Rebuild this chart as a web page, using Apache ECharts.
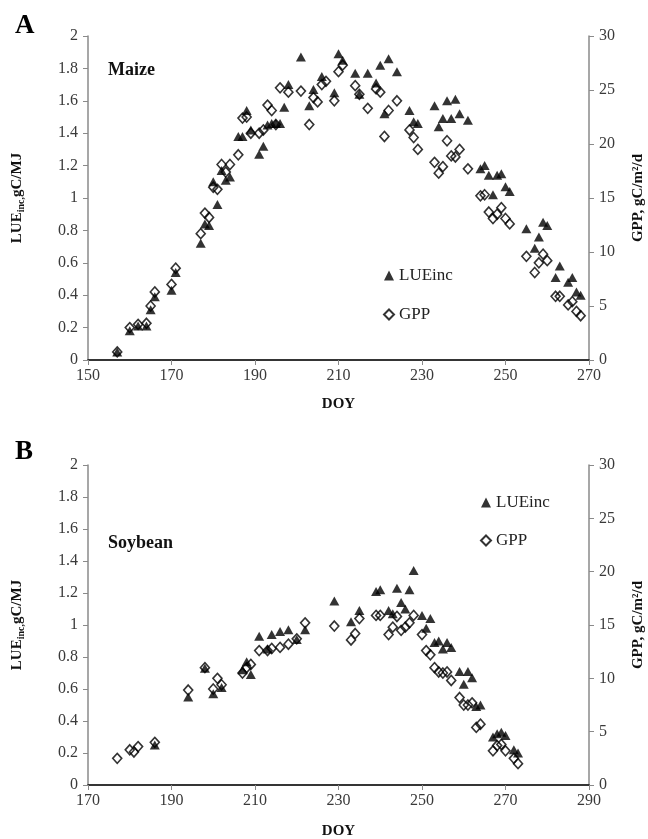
<!DOCTYPE html>
<html>
<head>
<meta charset="utf-8">
<script src="https://cdn.jsdelivr.net/npm/echarts@6/dist/echarts.min.js"></script>
<style>
  html, body { margin: 0; padding: 0; background: #fff; }
  #main { width: 648px; height: 839px; }
</style>
</head>
<body>
<div id="main"></div>
<script>
// Panel A: Maize
var maizeLueDoy = [157,160,162,164,165,166,170,171,177,178,179,180,181,182,183,184,186,187,188,189,191,192,193,194,195,196,197,198,201,203,204,206,209,210,211,214,215,217,219,220,221,222,224,227,228,229,233,234,235,236,237,238,239,241,244,245,246,247,248,249,250,251,255,257,258,259,260,262,263,265,266,267,268];
var maizeLue = [0.05,0.18,0.21,0.21,0.31,0.39,0.43,0.54,0.72,0.84,0.83,1.10,0.96,1.17,1.11,1.13,1.38,1.38,1.54,1.42,1.27,1.32,1.45,1.46,1.46,1.46,1.56,1.70,1.87,1.57,1.67,1.75,1.65,1.89,1.85,1.77,1.64,1.77,1.71,1.82,1.52,1.86,1.78,1.54,1.47,1.46,1.57,1.44,1.49,1.60,1.49,1.61,1.52,1.48,1.18,1.20,1.14,1.02,1.14,1.15,1.07,1.04,0.81,0.69,0.76,0.85,0.83,0.51,0.58,0.48,0.51,0.42,0.40];
var maizeGppDoy = [157,160,162,164,165,166,170,171,177,178,179,180,181,182,183,184,186,187,188,189,191,192,193,194,195,196,198,201,203,204,205,206,207,209,210,211,214,215,217,219,220,221,222,224,227,228,229,233,234,235,236,237,238,239,241,244,245,246,247,248,249,250,251,255,257,258,259,260,262,263,265,266,267,268];
var maizeGpp = [0.75,3.0,3.3,3.4,5.0,6.3,7.0,8.5,11.7,13.6,13.2,16.0,15.8,18.1,17.4,18.1,19.0,22.4,22.5,21.0,21.0,21.3,23.6,23.1,21.8,25.2,24.8,24.9,21.8,24.3,23.9,25.5,25.8,24.0,26.7,27.3,25.4,24.6,23.3,25.1,24.8,20.7,23.1,24.0,21.3,20.6,19.5,18.3,17.3,17.9,20.3,18.9,18.8,19.5,17.7,15.2,15.3,13.7,13.1,13.5,14.1,13.1,12.6,9.6,8.1,9.0,9.8,9.2,5.9,5.9,5.1,5.4,4.5,4.1];

// Panel B: Soybean
var soyLueDoy = [186,194,198,200,202,207,208,209,211,213,214,216,218,220,222,229,233,235,239,240,242,243,244,245,246,247,248,250,251,252,253,254,255,256,257,259,260,261,262,263,264,267,268,269,270,272,273];
var soyLue = [0.25,0.55,0.73,0.57,0.61,0.72,0.77,0.69,0.93,0.85,0.94,0.96,0.97,0.91,0.97,1.15,1.02,1.09,1.21,1.22,1.09,1.07,1.23,1.14,1.10,1.22,1.34,1.06,0.98,1.04,0.89,0.90,0.85,0.89,0.86,0.71,0.63,0.71,0.67,0.49,0.50,0.30,0.32,0.33,0.31,0.22,0.20];
var soyGppDoy = [177,180,181,182,186,194,198,200,201,202,207,208,209,211,213,214,216,218,220,222,229,233,234,235,239,240,242,243,244,245,246,247,248,250,251,252,253,254,255,256,257,259,260,261,262,263,264,267,268,269,270,272,273];
var soyGpp = [2.5,3.3,3.1,3.6,4.0,8.9,11.0,9.0,10.0,9.4,10.5,11.0,11.3,12.6,12.6,12.8,12.9,13.2,13.7,15.2,14.9,13.6,14.2,15.6,15.9,15.9,14.1,14.8,15.8,14.5,14.8,15.2,15.9,14.1,12.6,12.2,11.0,10.6,10.5,10.6,9.8,8.2,7.5,7.5,7.7,5.4,5.7,3.2,3.7,3.8,3.2,2.5,2.0];

function zip(xs, ys) {
  var out = [];
  for (var i = 0; i < xs.length; i++) {
    out.push([xs[i], ys[i]]);
  }
  return out;
}

var serif = 'Liberation Serif';
var axisGray = '#8a8a8a';
var labelColor = '#3a3a3a';

function bottomAxis(grid, min, max, gap) {
  return {
    type: 'value', gridIndex: grid, position: 'bottom',
    min: min, max: max, interval: 20,
    name: 'DOY', nameLocation: 'middle', nameGap: gap,
    nameTextStyle: { fontFamily: serif, fontWeight: 'bold', fontSize: 15, color: '#111' },
    axisLine: { lineStyle: { color: axisGray, width: 1.5 } },
    axisTick: { length: 5, lineStyle: { color: axisGray } },
    axisLabel: { fontFamily: serif, fontSize: 16, color: labelColor, margin: 8 },
    splitLine: { show: false }
  };
}

function topAxis(grid, min, max) {
  return {
    type: 'value', gridIndex: grid, position: 'top',
    min: min, max: max,
    axisLine: { lineStyle: { color: '#111', width: 1.5 } },
    axisTick: { show: false },
    axisLabel: { show: false },
    splitLine: { show: false }
  };
}

function leftAxis(grid) {
  return {
    type: 'value', gridIndex: grid, position: 'left',
    min: 0, max: 2, interval: 0.2,
    name: '{a|LUE}{b|inc,}{a|gC/MJ}', nameLocation: 'middle', nameGap: 62,
    nameTextStyle: {
      rich: {
        a: { fontFamily: serif, fontWeight: 'bold', fontSize: 15, color: '#111' },
        b: { fontFamily: serif, fontWeight: 'bold', fontSize: 10, color: '#111', padding: [8, 0, 0, 0] }
      }
    },
    axisLine: { show: true, lineStyle: { color: axisGray, width: 1.5 } },
    axisTick: { show: true, length: 5, lineStyle: { color: axisGray } },
    axisLabel: { fontFamily: serif, fontSize: 16, color: labelColor, margin: 10 },
    splitLine: { show: false }
  };
}

function rightAxis(grid) {
  return {
    type: 'value', gridIndex: grid, position: 'right',
    min: 0, max: 30, interval: 5,
    name: 'GPP, gC/m²/d', nameLocation: 'middle', nameGap: 42,
    nameTextStyle: { fontFamily: serif, fontWeight: 'bold', fontSize: 15, color: '#111' },
    axisLine: { show: true, lineStyle: { color: axisGray, width: 1.5 } },
    axisTick: { show: true, length: 5, lineStyle: { color: axisGray } },
    axisLabel: { fontFamily: serif, fontSize: 16, color: labelColor, margin: 10 },
    splitLine: { show: false }
  };
}

function lueSeries(x, y, data) {
  return {
    name: 'LUEinc', type: 'scatter', xAxisIndex: x, yAxisIndex: y,
    symbol: 'triangle', symbolSize: [10, 9], z: 3,
    itemStyle: { color: '#000' },
    data: data
  };
}

function gppSeries(x, y, data) {
  return {
    name: 'GPP', type: 'scatter', xAxisIndex: x, yAxisIndex: y,
    symbol: 'diamond', symbolSize: [9, 10], z: 2,
    itemStyle: { color: 'rgba(255,255,255,0)', borderColor: '#000', borderWidth: 1.6 },
    data: data
  };
}

var myChart = echarts.init(document.getElementById('main'));

var option = {
  animation: false,
  backgroundColor: '#fff',
  title: [
    { text: 'A', left: 10, top: 8, textStyle: { fontFamily: serif, fontSize: 27, fontWeight: 'bold', color: '#000' } },
    { text: 'B', left: 10, top: 434, textStyle: { fontFamily: serif, fontSize: 27, fontWeight: 'bold', color: '#000' } },
    { text: 'Maize', left: 103, top: 56, textStyle: { fontFamily: serif, fontSize: 18, fontWeight: 'bold', color: '#111' } },
    { text: 'Soybean', left: 103, top: 529, textStyle: { fontFamily: serif, fontSize: 18, fontWeight: 'bold', color: '#111' } }
  ],
  legend: [
    {
      data: ['LUEinc', 'GPP'], orient: 'vertical', left: 378, top: 262,
      itemWidth: 10, itemHeight: 10, itemGap: 22,
      textStyle: { fontFamily: serif, fontSize: 17, color: '#222' },
      selectedMode: false
    },
    {
      data: ['LUEinc', 'GPP'], orient: 'vertical', left: 475, top: 489,
      itemWidth: 10, itemHeight: 10, itemGap: 21,
      textStyle: { fontFamily: serif, fontSize: 17, color: '#222' },
      selectedMode: false
    }
  ],
  grid: [
    { left: 88, right: 59, top: 36, height: 324, outerBoundsMode: 'none', containLabel: false },
    { left: 88, right: 59, top: 465, height: 320, outerBoundsMode: 'none', containLabel: false }
  ],
  xAxis: [
    bottomAxis(0, 150, 270, 37),
    topAxis(0, 150, 270),
    bottomAxis(1, 170, 290, 39),
    topAxis(1, 170, 290)
  ],
  yAxis: [
    leftAxis(0),
    rightAxis(0),
    leftAxis(1),
    rightAxis(1)
  ],
  series: [
    lueSeries(0, 0, zip(maizeLueDoy, maizeLue)),
    gppSeries(0, 1, zip(maizeGppDoy, maizeGpp)),
    lueSeries(2, 2, zip(soyLueDoy, soyLue)),
    gppSeries(2, 3, zip(soyGppDoy, soyGpp))
  ]
};

myChart.setOption(option);
</script>
</body>
</html>
